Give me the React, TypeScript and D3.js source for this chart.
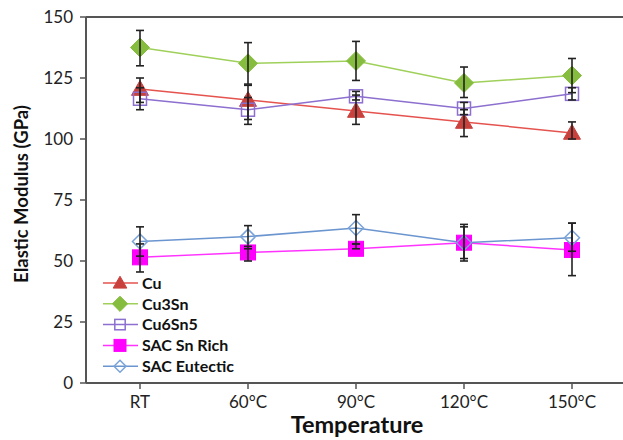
import React from "react";
import * as d3 from "d3";

const categories = ["RT", "60°C", "90°C", "120°C", "150°C"];
const yTicks = [0, 25, 50, 75, 100, 125, 150];

const seriesNames = ["Cu", "Cu3Sn", "Cu6Sn5", "SAC Sn Rich", "SAC Eutectic"];
const cuValues = [120.5, 116, 111.5, 107, 102.5];
const cuHigh = [125, 122, 118, 112, 107];
const cuLow = [115, 108, 106, 101, 100];
const cu3snValues = [137.5, 131, 132, 123, 126];
const cu3snHigh = [144.5, 139.5, 140, 129.5, 133];
const cu3snLow = [130, 122.5, 124, 117, 119];
const cu6sn5Values = [116.5, 112, 117.5, 112.5, 118.5];
const cu6sn5High = [121, 117, 119.5, 115, 121];
const cu6sn5Low = [112, 106, 116, 110, 116];
const snRichValues = [51.5, 53.5, 55, 57.5, 54.5];
const snRichHigh = [57, 56, 57, 65, 65.5];
const snRichLow = [45.5, 50, 55, 50, 44];
const eutecticValues = [58, 60, 63.5, 57.5, 59.5];
const eutecticHigh = [64, 64.5, 69, 64, 65.5];
const eutecticLow = [52, 55, 57, 51, 54];

const W = 623;
const H = 440;
const left = 86;
const right = 626;
const top = 17;
const bottom = 383;
const font = "Lato, 'Open Sans', sans-serif";
const axisColor = "#555";

type Style = {
  line: string;
  marker: "triangle" | "diamond" | "square" | "diamondOpen" | "squareOpen";
  fill: string;
  stroke: string;
  size: number;
};

const styles: Style[] = [
  { line: "#e5534f", marker: "triangle", fill: "#c9413d", stroke: "#c9413d", size: 17 },
  { line: "#9fd05a", marker: "diamond", fill: "#86bd3e", stroke: "#86bd3e", size: 19 },
  { line: "#8c6fcf", marker: "squareOpen", fill: "none", stroke: "#8c6fcf", size: 13 },
  { line: "#ff33ff", marker: "square", fill: "#ff00ff", stroke: "#ff00ff", size: 15 },
  { line: "#6b95cf", marker: "diamondOpen", fill: "none", stroke: "#7aa3d8", size: 15 },
];

const seriesValues = [cuValues, cu3snValues, cu6sn5Values, snRichValues, eutecticValues];
const seriesHigh = [cuHigh, cu3snHigh, cu6sn5High, snRichHigh, eutecticHigh];
const seriesLow = [cuLow, cu3snLow, cu6sn5Low, snRichLow, eutecticLow];

function Marker({ x, y, s }: { x: number; y: number; s: Style }) {
  const r = s.size / 2;
  if (s.marker === "triangle") {
    const p = `${x},${y - r} ${x + r},${y + r * 0.75} ${x - r},${y + r * 0.75}`;
    return <polygon points={p} fill={s.fill} stroke={s.stroke} />;
  }
  if (s.marker === "diamond" || s.marker === "diamondOpen") {
    const p = `${x},${y - r} ${x + r},${y} ${x},${y + r} ${x - r},${y}`;
    return (
      <polygon
        points={p}
        fill={s.fill}
        stroke={s.stroke}
        strokeWidth={s.marker === "diamondOpen" ? 1.5 : 1}
      />
    );
  }
  return (
    <rect
      x={x - r}
      y={y - r}
      width={s.size}
      height={s.size}
      fill={s.fill}
      stroke={s.stroke}
      strokeWidth={s.marker === "squareOpen" ? 1.5 : 1}
    />
  );
}

export default function App() {
  const x = d3.scalePoint<string>().domain(categories).range([left, right]).padding(0.5);
  const y = d3.scaleLinear().domain([0, 150]).range([bottom, top]);
  const line = d3
    .line<number>()
    .x((_, i) => x(categories[i]) as number)
    .y((d) => y(d));

  const legendX = 120;
  const legendY0 = 283;
  const legendDy = 20.8;

  return (
    <svg
      width={W}
      height={H}
      style={{ position: "absolute", left: 0, top: 0, background: "#fff" }}
    >
      <rect width={W} height={H} fill="#fff" />
      {/* frame */}
      <line x1={left} x2={W} y1={top} y2={top} stroke={axisColor} strokeWidth={2} />
      <line x1={left} x2={left} y1={top} y2={bottom} stroke={axisColor} strokeWidth={2} />
      <line x1={left} x2={W} y1={bottom} y2={bottom} stroke={axisColor} strokeWidth={2} />
      {yTicks.map((t) => (
        <g key={t}>
          <line x1={left - 6} x2={left} y1={y(t)} y2={y(t)} stroke={axisColor} strokeWidth={1.5} />
          <text
            x={left - 13}
            y={y(t)}
            dy="0.35em"
            textAnchor="end"
            fontFamily={font}
            fontSize={17}
            fill="#222"
          >
            {t}
          </text>
        </g>
      ))}
      {categories.map((c) => (
        <g key={c}>
          <line
            x1={x(c)}
            x2={x(c)}
            y1={bottom}
            y2={bottom + 6}
            stroke={axisColor}
            strokeWidth={1.5}
          />
          <text
            x={x(c)}
            y={bottom + 25}
            textAnchor="middle"
            fontFamily={font}
            fontSize={17}
            fill="#222"
          >
            {c}
          </text>
        </g>
      ))}
      <text
        x={357}
        y={433}
        textAnchor="middle"
        fontFamily={font}
        fontWeight="bold"
        fontSize={23.5}
        fill="#111"
      >
        Temperature
      </text>
      <text
        transform={`translate(28,194) rotate(-90)`}
        textAnchor="middle"
        fontFamily={font}
        fontWeight="bold"
        fontSize={18.5}
        fill="#111"
      >
        Elastic Modulus (GPa)
      </text>

      {/* series lines */}
      {seriesValues.map((vals, si) => (
        <path
          key={"l" + si}
          d={line(vals) || ""}
          fill="none"
          stroke={styles[si].line}
          strokeWidth={1.5}
        />
      ))}
      {/* markers */}
      {seriesValues.map((vals, si) =>
        vals.map((v, i) => (
          <Marker key={`m${si}-${i}`} x={x(categories[i]) as number} y={y(v)} s={styles[si]} />
        ))
      )}
      {/* error bars */}
      {seriesValues.map((vals, si) =>
        vals.map((v, i) => {
          const cx = x(categories[i]) as number;
          const hi = y(seriesHigh[si][i]);
          const lo = y(seriesLow[si][i]);
          return (
            <g key={`e${si}-${i}`} stroke="#222" strokeWidth={1.6}>
              <line x1={cx} x2={cx} y1={hi} y2={lo} />
              <line x1={cx - 4} x2={cx + 4} y1={hi} y2={hi} />
              <line x1={cx - 4} x2={cx + 4} y1={lo} y2={lo} />
            </g>
          );
        })
      )}

      {/* legend */}
      {seriesNames.map((n, i) => {
        const ly = legendY0 + i * legendDy;
        const s = styles[i];
        const ls = { ...s, size: s.size * 0.8 };
        return (
          <g key={n}>
            <line x1={103} x2={138} y1={ly} y2={ly} stroke={s.line} strokeWidth={1.5} />
            <Marker x={legendX} y={ly} s={ls} />
            <text
              x={142}
              y={ly}
              dy="0.36em"
              fontFamily={font}
              fontWeight="bold"
              fontSize={16}
              fill="#111"
            >
              {n}
            </text>
          </g>
        );
      })}
    </svg>
  );
}
